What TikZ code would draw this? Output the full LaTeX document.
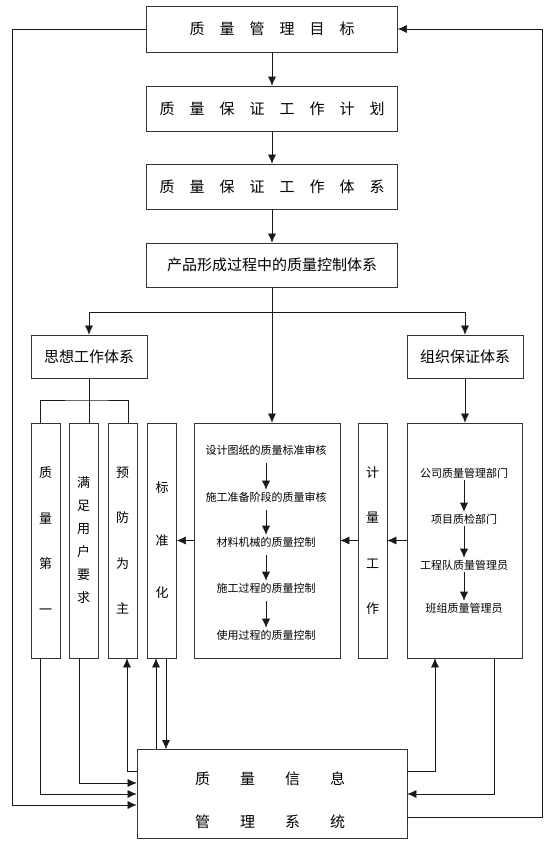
\documentclass[tikz,border=0pt]{standalone}
\usepackage{fontspec}
\newfontfamily\cjk{Noto Sans CJK SC}
\usepackage{tikz}
\usetikzlibrary{arrows.meta}
\usepackage{xcolor}

\tikzset{
  box/.style={draw=black!80, line width=0.7pt, rectangle, inner sep=0pt, align=center,
    font=\cjk\fontsize{15}{18}\selectfont},
  tallbox/.style={box, minimum width=29pt, minimum height=235pt},
  item/.style={inner sep=2pt, font=\cjk\fontsize{11}{13}\selectfont},
  arr/.style={black!90, line width=0.6pt, -{Latex[length=9pt,width=8pt]}},
  ln/.style={black!90, line width=0.6pt}
}

\begin{document}
\begin{tikzpicture}[x=1pt, y=-1pt]
    \useasboundingbox (0,0) rectangle (554,857);

    % Main chain
    \node[box, minimum width=251pt, minimum height=46pt] (goal) at (272,29) {质\quad 量\quad 管\quad 理\quad 目\quad 标};
    \node[box, minimum width=251pt, minimum height=45pt] (plan) at (272,108.5) {质\quad 量\quad 保\quad 证\quad 工\quad 作\quad 计\quad 划};
    \node[box, minimum width=251pt, minimum height=45pt] (sys) at (272,186.5) {质\quad 量\quad 保\quad 证\quad 工\quad 作\quad 体\quad 系};
    \node[box, minimum width=251pt, minimum height=44pt] (ctrl) at (272,265) {产品形成过程中的质量控制体系};
    \draw[arr] (goal) -- (plan);
    \draw[arr] (plan) -- (sys);
    \draw[arr] (sys) -- (ctrl);

    % Two sub systems
    \node[box, minimum width=116pt, minimum height=43pt] (idea) at (89,356.5) {思想工作体系};
    \node[box, minimum width=116pt, minimum height=43pt] (org) at (465,356.5) {组织保证体系};
    \coordinate (br) at (272,312);
    \draw[arr] (br) -| (idea.north);
    \draw[arr] (br) -| (org.north);

    % Column boxes
    \node[tallbox, font=\cjk\fontsize{13}{45.5}\selectfont] (q1) at (45.5,540.5) {质\\量\\第\\一};
    \node[tallbox, font=\cjk\fontsize{13}{23}\selectfont] (q2) at (83.5,540.5) {满\\足\\用\\户\\要\\求};
    \node[tallbox, font=\cjk\fontsize{13}{45.5}\selectfont] (q3) at (122.5,540.5) {预\\防\\为\\主};
    \node[tallbox, font=\cjk\fontsize{13}{52.5}\selectfont] (q4) at (162,540.5) {标\\准\\化};
    \node[box, minimum width=146pt, minimum height=235pt] (proc) at (267,540.5) {};
    \node[tallbox, font=\cjk\fontsize{13}{45.5}\selectfont] (meas) at (372.5,540.5) {计\\量\\工\\作};
    \node[box, minimum width=115pt, minimum height=235pt] (orgd) at (464.5,540.5) {};

    % Process steps
    \node[item] (p1) at (266,450) {设计图纸的质量标准审核};
    \node[item] (p2) at (266,497) {施工准备阶段的质量审核};
    \node[item] (p3) at (266,542) {材料机械的质量控制};
    \node[item] (p4) at (266,588) {施工过程的质量控制};
    \node[item] (p5) at (266,635) {使用过程的质量控制};
    \draw[arr, shorten <=6pt] (p1) -- (p2);
    \draw[arr, shorten <=6pt] (p2) -- (p3);
    \draw[arr, shorten <=6pt] (p3) -- (p4);
    \draw[arr, shorten <=6pt] (p4) -- (p5);

    % Organisation levels
    \node[item] (o1) at (464,473) {公司质量管理部门};
    \node[item] (o2) at (464,519) {项目质检部门};
    \node[item] (o3) at (464,565) {工程队质量管理员};
    \node[item] (o4) at (464,608) {班组质量管理员};
    \draw[arr] (o1) -- (o2);
    \draw[arr] (o2) -- (o3);
    \draw[arr] (o3) -- (o4);

    % Links into the columns
    \draw[arr] (ctrl.south) -- (ctrl.south |- proc.north);
    \draw[arr] (org) -- (org.south |- orgd.north);
    \coordinate (bk) at (89,400);
    \draw[ln] (idea.south) -- (idea.south |- q2.north);
    \draw[ln] ([xshift=-5.5pt]q1.north) |- (bk) -| ([xshift=5.5pt]q3.north);
    \draw[arr] (orgd.west) -- (meas.east);
    \draw[arr] (meas.west) -- (proc.east);
    \draw[arr] (proc.west) -- (q4.east);

    % Information system
    \node[box, minimum width=270pt, minimum height=89pt] (info) at (272,794) {};
    \node[align=center, inner sep=0pt, font=\cjk\fontsize{15}{43}\selectfont] (infotxt) at (270,800.5) {质\qquad 量\qquad 信\qquad 息\\管\qquad 理\qquad 系\qquad 统};

    % Feedback loops
    \draw[arr] ([xshift=-5.5pt]q1.south) |- (info.west);
    \draw[arr] ([xshift=-4.5pt]q2.south) |- ([yshift=11pt]info.west);
    \draw[arr] (goal.west) -- ++(-134,0) |- ([yshift=-11pt]info.west);
    \draw[arr] ([yshift=23pt]info.west) -| ([xshift=4.5pt]q3.south);
    \draw[arr] ([xshift=-6pt]q4.south |- info.north) -- ([xshift=-6pt]q4.south);
    \draw[arr] ([xshift=4pt]q4.south) -- ([xshift=4pt]q4.south |- info.north);
    \draw[arr] ([yshift=23pt]info.east) -| ([xshift=-29.5pt]orgd.south);
    \draw[arr] ([xshift=29.5pt]orgd.south) |- (info.east);
    \draw[arr] ([yshift=-23pt]info.east) -- ++(135,0) |- (goal.east);
\end{tikzpicture}
\end{document}
